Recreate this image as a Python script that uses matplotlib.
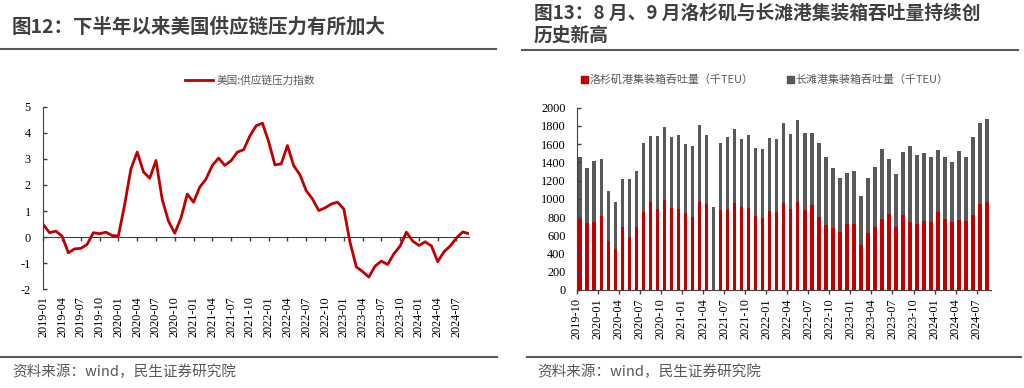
import numpy as np
import pandas as pd
import matplotlib

matplotlib.use("Agg")
import matplotlib.pyplot as plt
from matplotlib.lines import Line2D
from matplotlib.patches import Patch

plt.rcParams["font.family"] = ["Noto Sans CJK SC", "DejaVu Sans"]

# ---- data: US supply chain pressure index, monthly 2019-01 .. 2024-09
pressure_months = pd.date_range("2019-01", "2024-09", freq="MS").strftime("%Y-%m").tolist()
pressure = [
    0.48, 0.17, 0.23, 0.04, -0.60, -0.45, -0.43, -0.28, 0.17, 0.13, 0.19, 0.06,
    0.05, 1.25, 2.62, 3.26, 2.50, 2.26, 2.94, 1.44, 0.61, 0.15, 0.74, 1.65,
    1.34, 1.92, 2.23, 2.75, 3.03, 2.75, 2.93, 3.26, 3.35, 3.88, 4.27, 4.37,
    3.66, 2.77, 2.81, 3.51, 2.74, 2.39, 1.78, 1.46, 1.02, 1.12, 1.27, 1.34,
    1.08, -0.20, -1.14, -1.32, -1.53, -1.11, -0.92, -1.05, -0.64, -0.34, 0.19, -0.15,
    -0.32, -0.18, -0.34, -0.94, -0.56, -0.34, -0.03, 0.20, 0.13,
]

# ---- data: container throughput (k TEU), monthly 2019-10 .. 2024-08
port_months = pd.date_range("2019-10", "2024-08", freq="MS").strftime("%Y-%m").tolist()
la_teu = [
    775, 731, 750, 812, 541, 450, 691, 585, 695, 859, 962, 892,
    987, 896, 885, 841, 804, 962, 947, 0, 878, 892, 958, 907,
    903, 815, 786, 867, 859, 958, 888, 969, 878, 936, 804, 709,
    680, 640, 728, 724, 490, 622, 687, 779, 834, 687, 823, 750,
    724, 761, 742, 856, 782, 742, 771, 753, 826, 940, 962,
]
total_teu = [
    1463, 1335, 1415, 1437, 1090, 969, 1214, 1214, 1302, 1616, 1693, 1686,
    1792, 1675, 1700, 1605, 1576, 1806, 1700, 907, 1609, 1682, 1766, 1656,
    1697, 1561, 1543, 1667, 1660, 1828, 1715, 1865, 1718, 1726, 1616, 1455,
    1342, 1232, 1280, 1302, 1035, 1232, 1349, 1543, 1433, 1269, 1514, 1580,
    1484, 1499, 1459, 1532, 1459, 1404, 1525, 1455, 1675, 1828, 1876,
]
lb_teu = [t - a for t, a in zip(total_teu, la_teu)]

RED = "#C00000"
GREY = "#595959"
DARK = "#404040"
SERIF = "Liberation Serif"
TICK_FS = 8.8
W, H = 1024, 388


def fx(px):
    return px / W


def fy(py):
    return 1 - py / H


fig = plt.figure(figsize=(W / 100, H / 100), dpi=100)

# ---------------- left panel
ax1 = fig.add_axes([fx(43.3), fy(289.3), fx(469 - 43.3), (289.3 - 106.7) / H])
x1 = np.arange(len(pressure))
ax1.plot(x1, pressure, color=RED, lw=2, label="美国:供应链压力指数")
ax1.set_xlim(0, len(pressure) - 1)
ax1.set_ylim(-2, 5)
ax1.set_yticks(range(-2, 6))
ax1.set_yticklabels([str(v) for v in range(-2, 6)], fontfamily=SERIF, fontsize=TICK_FS)
ax1.tick_params(axis="y", direction="in", length=3, width=1, color=DARK, pad=9)
for s in ("top", "right"):
    ax1.spines[s].set_visible(False)
ax1.spines["left"].set_color(DARK)
ax1.spines["bottom"].set_position(("data", 0))
ax1.spines["bottom"].set_color(DARK)
q1 = x1[::3]
ax1.set_xticks(q1)
ax1.tick_params(axis="x", direction="out", length=3, width=1, color=DARK, labelbottom=False)
sec = ax1.secondary_xaxis("bottom")
sec.set_xticks(q1, labels=[pressure_months[i] for i in q1])
sec.tick_params(length=0, pad=5, labelrotation=90)
for lab in sec.get_xticklabels():
    lab.set_fontfamily(SERIF)
    lab.set_fontsize(TICK_FS)
sec.spines["bottom"].set_visible(False)
ax1.legend(loc="center", bbox_to_anchor=(fx(250), fy(80)), bbox_transform=fig.transFigure,
           frameon=False, fontsize=7.7, labelcolor=GREY, handlelength=2.6, handletextpad=0.3)

# ---------------- right panel
ax2 = fig.add_axes([fx(576.7), fy(290), fx(990.7 - 576.7), (290 - 107.7) / H])
x2 = np.arange(len(port_months))
ax2.bar(x2, la_teu, width=0.5, color=RED)
ax2.bar(x2, lb_teu, width=0.5, bottom=la_teu, color=GREY)
ax2.set_xlim(-0.5, len(port_months) - 0.5)
ax2.set_ylim(0, 2000)
ax2.set_yticks(range(0, 2001, 200))
ax2.set_yticklabels([str(v) for v in range(0, 2001, 200)], fontfamily=SERIF, fontsize=TICK_FS)
ax2.tick_params(axis="y", direction="in", length=3, width=1, color=DARK, pad=8)
q2 = x2[::3]
ax2.set_xticks(q2 - 0.5)
ax2.set_xticklabels([port_months[i] for i in q2], rotation=90, fontfamily=SERIF, fontsize=TICK_FS)
ax2.tick_params(axis="x", direction="out", length=3, width=1, color=DARK, pad=3)
for s in ("top", "right"):
    ax2.spines[s].set_visible(False)
ax2.spines["left"].set_color(DARK)
ax2.spines["bottom"].set_color(DARK)
handles = [Patch(color=RED), Patch(color=GREY)]
labels = ["洛杉矶港集装箱吞吐量（千TEU）", "长滩港集装箱吞吐量（千TEU）"]
ax2.legend(handles, labels, loc="center", ncol=2, bbox_to_anchor=(fx(765), fy(80)),
           bbox_transform=fig.transFigure, frameon=False, fontsize=7.9, labelcolor=GREY,
           handlelength=0.6, handleheight=0.6, handletextpad=0.2, columnspacing=3.0)

# ---------------- titles, rules, sources
fig.text(fx(12), fy(26.5), "图12：下半年以来美国供应链压力有所加大", fontsize=14,
         fontweight="bold", color=DARK, va="center")
fig.text(fx(534), fy(13.5), "图13：8 月、9 月洛杉矶与长滩港集装箱吞吐量持续创", fontsize=13.5,
         fontweight="bold", color=DARK, va="center")
fig.text(fx(534), fy(35.5), "历史新高", fontsize=13.5, fontweight="bold", color=DARK, va="center")
for x0, x1_, yy in ((0, 496, 49), (522, 1018, 49.5), (0, 497, 357), (527, 1021, 357)):
    fig.add_artist(Line2D([fx(x0), fx(x1_)], [fy(yy), fy(yy)], color=GREY, lw=1.5))
fig.text(fx(12), fy(372), "资料来源：wind，民生证券研究院", fontsize=10.5, color=GREY, va="center")
fig.text(fx(537), fy(372), "资料来源：wind，民生证券研究院", fontsize=10.5, color=GREY, va="center")

fig.savefig("out.png", dpi=100)
